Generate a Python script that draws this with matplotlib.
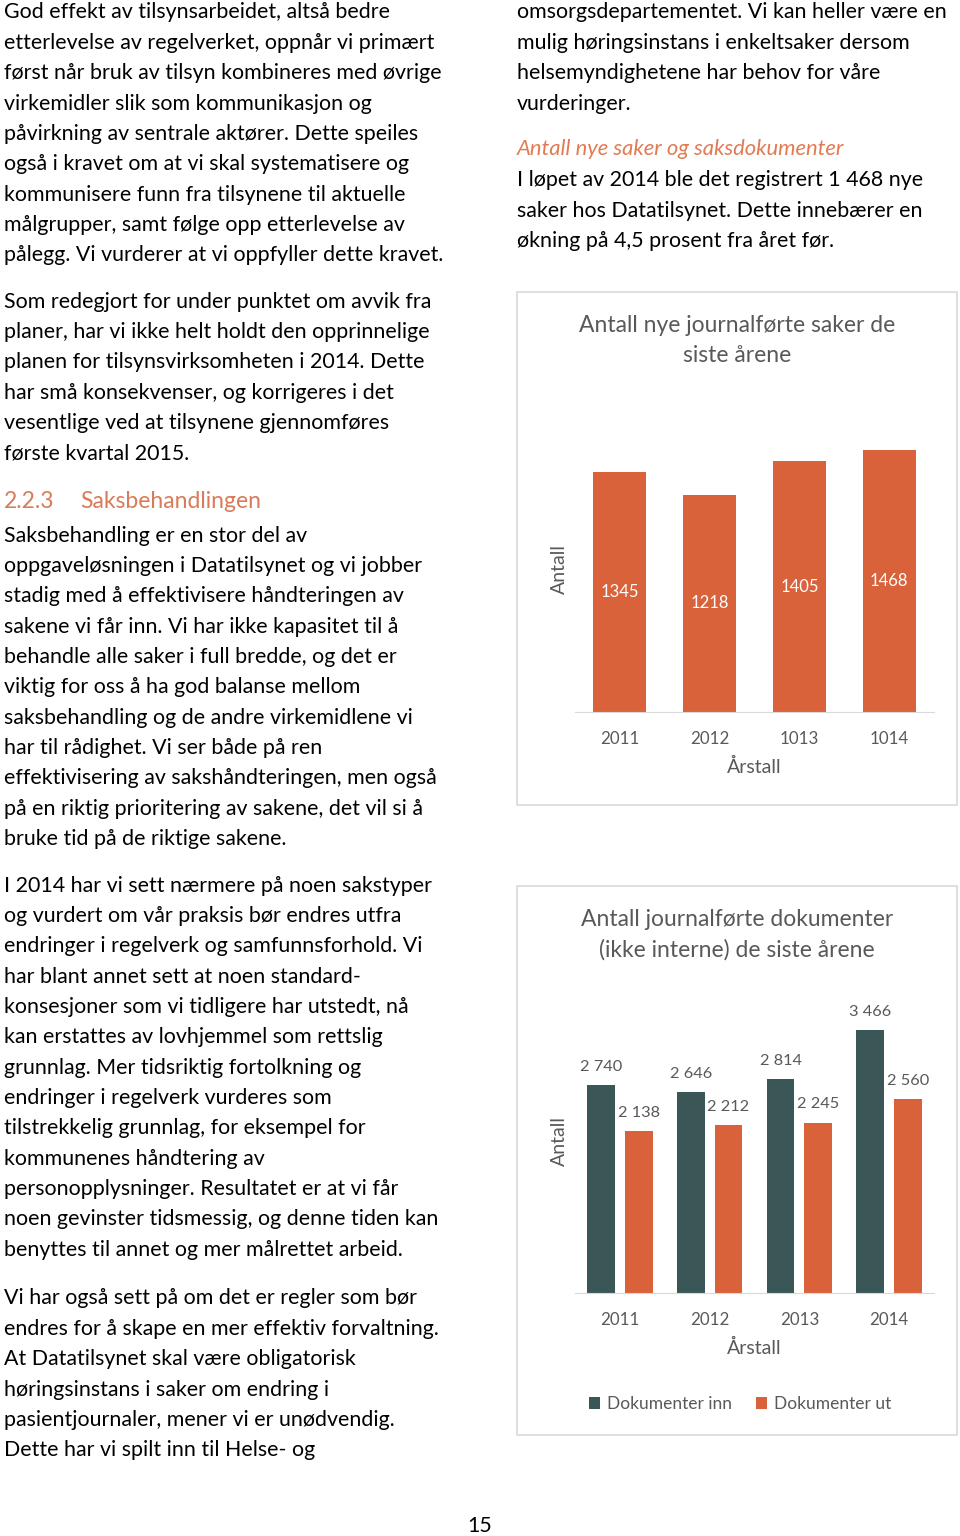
import matplotlib.pyplot as plt
from matplotlib.patches import Rectangle

plt.rcParams['font.family'] = ['Lato', 'DejaVu Sans']

# -----------------------------
# Data
# -----------------------------
CASE_YEARS = ["2011", "2012", "1013", "1014"]   # as printed in the source chart
CASE_COUNTS = [1345, 1218, 1405, 1468]

DOC_YEARS = ["2011", "2012", "2013", "2014"]
DOCS_IN = [2740, 2646, 2814, 3466]
DOCS_OUT = [2138, 2212, 2245, 2560]

LEFT_P1 = [
    "God effekt av tilsynsarbeidet, altså bedre",
    "etterlevelse av regelverket, oppnår vi primært",
    "først når bruk av tilsyn kombineres med øvrige",
    "virkemidler slik som kommunikasjon og",
    "påvirkning av sentrale aktører. Dette speiles",
    "også i kravet om at vi skal systematisere og",
    "kommunisere funn fra tilsynene til aktuelle",
    "målgrupper, samt følge opp etterlevelse av",
    "pålegg. Vi vurderer at vi oppfyller dette kravet.",
]
LEFT_P2 = [
    "Som redegjort for under punktet om avvik fra",
    "planer, har vi ikke helt holdt den opprinnelige",
    "planen for tilsynsvirksomheten i 2014. Dette",
    "har små konsekvenser, og korrigeres i det",
    "vesentlige ved at tilsynene gjennomføres",
    "første kvartal 2015.",
]
LEFT_P3 = [
    "Saksbehandling er en stor del av",
    "oppgaveløsningen i Datatilsynet og vi jobber",
    "stadig med å effektivisere håndteringen av",
    "sakene vi får inn. Vi har ikke kapasitet til å",
    "behandle alle saker i full bredde, og det er",
    "viktig for oss å ha god balanse mellom",
    "saksbehandling og de andre virkemidlene vi",
    "har til rådighet. Vi ser både på ren",
    "effektivisering av sakshåndteringen, men også",
    "på en riktig prioritering av sakene, det vil si å",
    "bruke tid på de riktige sakene.",
]
LEFT_P4 = [
    "I 2014 har vi sett nærmere på noen sakstyper",
    "og vurdert om vår praksis bør endres utfra",
    "endringer i regelverk og samfunnsforhold. Vi",
    "har blant annet sett at noen standard-",
    "konsesjoner som vi tidligere har utstedt, nå",
    "kan erstattes av lovhjemmel som rettslig",
    "grunnlag. Mer tidsriktig fortolkning og",
    "endringer i regelverk vurderes som",
    "tilstrekkelig grunnlag, for eksempel for",
    "kommunenes håndtering av",
    "personopplysninger. Resultatet er at vi får",
    "noen gevinster tidsmessig, og denne tiden kan",
    "benyttes til annet og mer målrettet arbeid.",
]
LEFT_P5 = [
    "Vi har også sett på om det er regler som bør",
    "endres for å skape en mer effektiv forvaltning.",
    "At Datatilsynet skal være obligatorisk",
    "høringsinstans i saker om endring i",
    "pasientjournaler, mener vi er unødvendig.",
    "Dette har vi spilt inn til Helse- og",
]
RIGHT_P1 = [
    "omsorgsdepartementet. Vi kan heller være en",
    "mulig høringsinstans i enkeltsaker dersom",
    "helsemyndighetene har behov for våre",
    "vurderinger.",
]
RIGHT_P2 = [
    "I løpet av 2014 ble det registrert 1 468 nye",
    "saker hos Datatilsynet. Dette innebærer en",
    "økning på 4,5 prosent fra året før.",
]

# -----------------------------
# Style
# -----------------------------
W, H = 960, 1536
ORANGE = "#DA623A"
TEAL = "#3B5656"
GREY_TXT = "#595959"
GRID = "#D9D9D9"
HEAD = "#D97B58"
BODY_SIZE = 15.4
CHART_TITLE = 16.5
LINE = 30.35


def px_axes(left, top, right, bottom):
    return fig.add_axes([left / W, 1 - bottom / H, (right - left) / W, (bottom - top) / H])


def paragraph(x, y0, lines):
    for i, line in enumerate(lines):
        page.text(x, y0 + 1.5 + i * LINE, line, fontsize=BODY_SIZE, color="black",
                  ha="left", va="center")


def style_axes(ax):
    for s in ("left", "right", "top"):
        ax.spines[s].set_visible(False)
    ax.spines["bottom"].set_color(GRID)
    ax.set_yticks([])
    ax.tick_params(axis="x", length=0, pad=13.5, labelsize=12.2, labelcolor=GREY_TXT)
    ax.set_xlim(-0.5, 3.5)
    ax.patch.set_alpha(0)
    ax.set_xlabel("Årstall", fontsize=14, color=GREY_TXT, labelpad=8)
    ax.set_ylabel("Antall", fontsize=14, color=GREY_TXT, labelpad=5)


fig = plt.figure(figsize=(W / 100, H / 100), dpi=100)
page = fig.add_axes([0, 0, 1, 1])
page.set_xlim(0, W)
page.set_ylim(H, 0)
page.axis("off")

# body text
paragraph(4, 11, LEFT_P1)
paragraph(4, 300, LEFT_P2)
page.text(4, 502, "2.2.3", fontsize=16.5, color=HEAD, va="center")
page.text(80, 502, "Saksbehandlingen", fontsize=16.5, color=HEAD, va="center")
paragraph(4, 534, LEFT_P3)
paragraph(4, 884, LEFT_P4)
paragraph(4, 1297, LEFT_P5)
paragraph(517, 11, RIGHT_P1)
page.text(517, 149, "Antall nye saker og saksdokumenter", fontsize=15.8,
          style="italic", color="#E07B53", va="center")
paragraph(517, 179, RIGHT_P2)
page.text(480, 1526, "15", fontsize=BODY_SIZE, ha="center", va="center")

# chart frames
page.add_patch(Rectangle((517, 292), 440, 513, facecolor="white", edgecolor=GRID, lw=1.2))
page.add_patch(Rectangle((517, 886), 440, 549, facecolor="white", edgecolor=GRID, lw=1.2))

# -----------------------------
# Chart 1: nye saker
# -----------------------------
page.text(737, 325, "Antall nye journalførte saker de", fontsize=CHART_TITLE, color=GREY_TXT,
          ha="center", va="center")
page.text(737, 356, "siste årene", fontsize=CHART_TITLE, color=GREY_TXT, ha="center", va="center")

ax1 = px_axes(575, 712 - 1600 * 0.1785, 934, 712)
x = range(len(CASE_YEARS))
bars = ax1.bar(x, CASE_COUNTS, width=0.59, color=ORANGE)
ax1.bar_label(bars, label_type="center", color="white", fontsize=12)
ax1.set_ylim(0, 1600)
ax1.set_xticks(list(x), CASE_YEARS)
style_axes(ax1)

# -----------------------------
# Chart 2: dokumenter
# -----------------------------
page.text(737, 919, "Antall journalførte dokumenter", fontsize=CHART_TITLE, color=GREY_TXT,
          ha="center", va="center")
page.text(737, 950, "(ikke interne) de siste årene", fontsize=CHART_TITLE, color=GREY_TXT,
          ha="center", va="center")

ax2 = px_axes(575, 1293 - 4000 * 0.0759, 934, 1293)
x2 = list(range(len(DOC_YEARS)))
b_in = ax2.bar([i - 0.21 for i in x2], DOCS_IN, width=0.31, color=TEAL, label="Dokumenter inn")
b_out = ax2.bar([i + 0.21 for i in x2], DOCS_OUT, width=0.31, color=ORANGE, label="Dokumenter ut")
fmt = lambda v: f"{v:,}".replace(",", " ")
ax2.bar_label(b_in, labels=[fmt(v) for v in DOCS_IN], padding=8, color=GREY_TXT, fontsize=11.8)
ax2.bar_label(b_out, labels=[fmt(v) for v in DOCS_OUT], padding=8, color=GREY_TXT, fontsize=11.8)
ax2.set_ylim(0, 4000)
ax2.set_xticks(x2, DOC_YEARS)
style_axes(ax2)
leg = ax2.legend(loc="center", bbox_to_anchor=(0.46, -111 / 303.6), ncol=2, frameon=False,
                 handlelength=0.65, handleheight=0.65, handletextpad=0.4, columnspacing=1.35,
                 fontsize=12.5, labelcolor=GREY_TXT)

fig.savefig("out.png", dpi=100)
